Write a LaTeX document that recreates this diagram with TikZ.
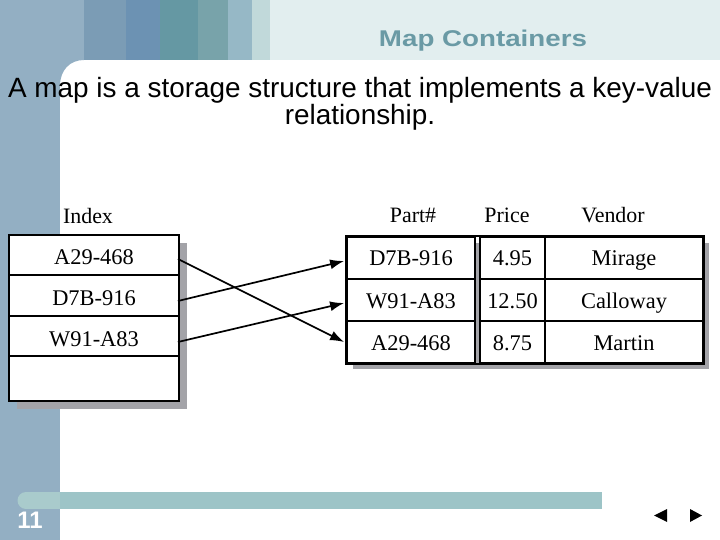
\documentclass[tikz,border=0pt]{standalone}
\usepackage{fontspec}
\setmainfont{Liberation Serif}
\setsansfont{Liberation Sans}
\usetikzlibrary{arrows.meta}

\definecolor{stripblue}{HTML}{93AFC3}
\definecolor{bandb}{HTML}{7B9CB5}
\definecolor{bandc}{HTML}{6C92B3}
\definecolor{bandd}{HTML}{6598A3}
\definecolor{bande}{HTML}{78A3AA}
\definecolor{bandf}{HTML}{96B8C6}
\definecolor{bandg}{HTML}{C1D9DA}
\definecolor{bandh}{HTML}{E2EEEF}
\definecolor{titleteal}{HTML}{6A9AA5}
\definecolor{barteal}{HTML}{9DC4C7}
\definecolor{barlight}{HTML}{A9CBCC}
\definecolor{shadegray}{HTML}{A3A3A8}

\tikzset{
  cell/.style={draw, line width=1.8bp, fill=white, inner sep=0pt, text depth=0pt,
    font=\fontsize{22.5}{24}\selectfont},
  idxcell/.style={cell, text height=20bp, minimum width=170bp, minimum height=40.5bp},
  prtcell/.style={cell, text height=16bp, minimum height=42bp},
  head/.style={anchor=base, font=\fontsize{22}{24}\selectfont},
  link/.style={-{Latex[length=14bp,width=10bp]}, line width=1.7bp}
}

\begin{document}
\begin{tikzpicture}[x=1bp, y=-1bp]
    \useasboundingbox (0,0) rectangle (720,540);

    % 1. Background: strip and top band
    \fill[white] (0,0) rectangle (720,540);
    \fill[stripblue] (0,0) rectangle (60,540);
    \foreach \a/\b/\c in {0/84/stripblue, 84/126/bandb, 126/160/bandc, 160/198/bandd,
        198/228/bande, 228/252/bandf, 252/270/bandg, 270/720/bandh}
        \fill[\c] (\a,0) rectangle (\b,60.5);
    \fill[stripblue] (60,60) -- (84,60) .. controls (70,60) and (60,70) .. (60,86) -- cycle;

    % 2. Title and text
    \node[anchor=base, text=titleteal] (title) at (483,47)
        {\resizebox{208bp}{16.5bp}{\sffamily\bfseries Map Containers}};
    \node[anchor=base, font=\sffamily\fontsize{28}{30}\selectfont] (line1) at (360,98)
        {A map is a storage structure that implements a key-value};
    \node[anchor=base, font=\sffamily\fontsize{28}{30}\selectfont] (line2) at (360,125)
        {relationship.};

    % 3. Index table
    \fill[shadegray] (17,243) rectangle (187,409);
    \node[head] (idxhead) at (88,224) {Index};
    \node[idxcell] (idx1) at (94,255) {A29-468};
    \node[idxcell] (idx2) at (94,295.5) {D7B-916};
    \node[idxcell] (idx3) at (94,336) {W91-A83};
    \node[idxcell, minimum height=45bp] (idx4) at (94,378.5) {};

    % 4. Parts table
    \fill[shadegray] (353,243) rectangle (709,369);
    \node[head] (parthead) at (413,223) {Part\#};
    \node[head] (pricehead) at (507,223) {Price};
    \node[head] (vendorhead) at (613,223) {Vendor};
    \foreach \r/\y/\p/\q/\v in {1/258/D7B-916/4.95/Mirage, 2/300/W91-A83/12.50/Calloway,
        3/342/A29-468/8.75/Martin} {
        \node[prtcell, minimum width=128bp] (prt\r) at (411,\y) {\p};
        \node[prtcell, minimum width=65bp] (price\r) at (512.5,\y) {\q};
        \node[prtcell, minimum width=158bp] (vend\r) at (624,\y) {\v};
    }
    \draw[line width=1.8bp] (prt1.north west) rectangle (vend3.south east);

    % 5. Links from index to parts
    \draw[link] ([xshift=-2bp, yshift=-4bp]idx1.east) -- ([xshift=-2bp]prt3.west);
    \draw[link] ([xshift=-2bp, yshift=-5.5bp]idx2.east) -- ([xshift=-2bp, yshift=-3bp]prt1.west);
    \draw[link] ([xshift=-2bp, yshift=-6bp]idx3.east) -- ([xshift=-2bp, yshift=-3bp]prt2.west);

    % 6. Footer
    \fill[barteal] (26,492) rectangle (602,509);
    \fill[barlight] (26,492) rectangle (60,509);
    \fill[barlight] (26,500.5) circle (8.5);
    \node[anchor=base, text=white, font=\sffamily\bfseries\fontsize{24}{24}\selectfont] (pagenum)
        at (30,528) {11};
    \fill (654,515.5) -- (667,509) -- (667,522) -- cycle;
    \fill (702,515.5) -- (690,509) -- (690,522) -- cycle;
\end{tikzpicture}
\end{document}
